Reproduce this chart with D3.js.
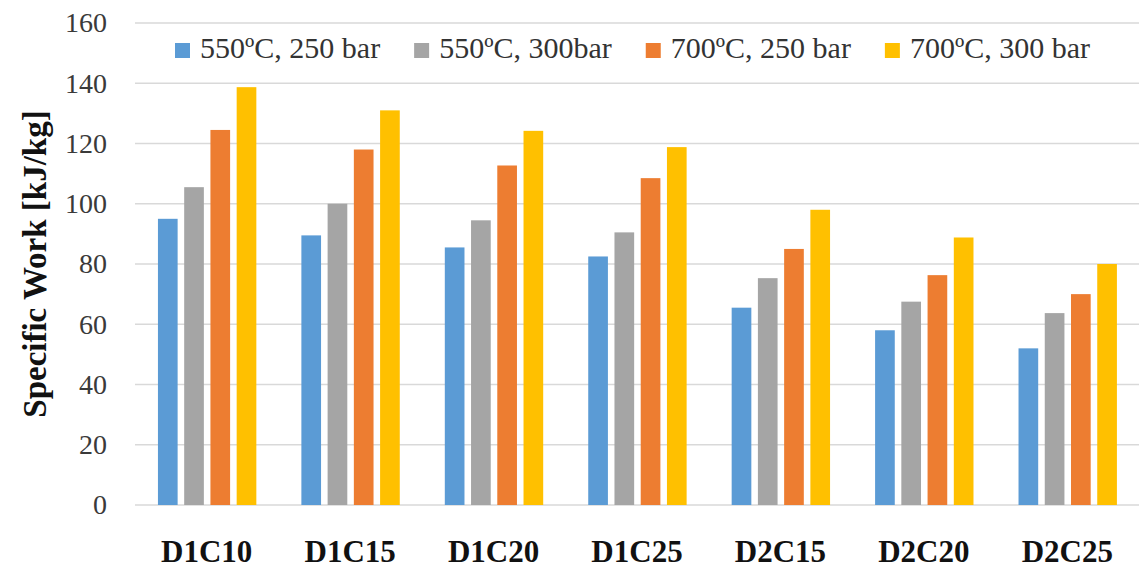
<!DOCTYPE html>
<html lang="en">
<head>
    <meta charset="UTF-8">
    <title>Specific Work Bar Chart</title>
    <script src="https://d3js.org/d3.v7.min.js"></script>
    <style>
        body {
            margin: 0;
            padding: 0;
            background-color: #fff;
        }
        svg text {
            font-family: "Liberation Serif", "Times New Roman", serif;
        }
        .ytick text {
            font-size: 28px;
            fill: #3a3a3a;
        }
        .xtick text {
            font-size: 31px;
            font-weight: bold;
            fill: #111;
        }
        .grid line {
            stroke: #d9d9d9;
            stroke-width: 1.5;
        }
    </style>
</head>
<body>
<div id="chart"></div>
<script>
    // Data
    const categories = ["D1C10", "D1C15", "D1C20", "D1C25", "D2C15", "D2C20", "D2C25"];
    const seriesNames = ["550ºC, 250 bar", "550ºC, 300bar", "700ºC, 250 bar", "700ºC, 300 bar"];
    const s550_250 = [95, 89.5, 85.5, 82.5, 65.5, 58, 52];
    const s550_300 = [105.5, 100, 94.5, 90.5, 75.3, 67.5, 63.7];
    const s700_250 = [124.5, 118, 112.7, 108.5, 85, 76.3, 70];
    const s700_300 = [138.7, 131, 124.2, 118.8, 98, 88.8, 80];
    const yTicks = [0, 20, 40, 60, 80, 100, 120, 140, 160];
    const colors = ["#5b9bd5", "#a5a5a5", "#ed7d31", "#ffc000"];

    const seriesValues = [s550_250, s550_300, s700_250, s700_300];
    const rows = categories.map((c, i) => ({
        cat: c,
        values: seriesNames.map((s, j) => ({series: s, value: seriesValues[j][i]}))
    }));

    const W = 1145, H = 571;
    const margin = {top: 23, right: 6, bottom: 66, left: 135};
    const width = W - margin.left - margin.right;
    const height = H - margin.top - margin.bottom;

    const svg = d3.select("#chart")
        .append("svg")
        .attr("width", W)
        .attr("height", H);

    const g = svg.append("g")
        .attr("transform", `translate(${margin.left},${margin.top})`);

    const x0 = d3.scaleBand()
        .domain(categories)
        .range([0, width])
        .padding(0);

    const bw = x0.bandwidth();
    const x1 = d3.scaleBand()
        .domain(seriesNames)
        .range([bw * 0.16, bw * 0.846])
        .paddingInner(0.25)
        .paddingOuter(0);

    const y = d3.scaleLinear()
        .domain([0, 160])
        .range([height, 0]);

    const color = d3.scaleOrdinal().domain(seriesNames).range(colors);

    // gridlines
    g.append("g")
        .attr("class", "grid")
        .selectAll("line")
        .data(yTicks)
        .enter().append("line")
        .attr("x1", 0)
        .attr("x2", width)
        .attr("y1", d => y(d))
        .attr("y2", d => y(d));

    // y axis labels
    const yAxis = g.append("g")
        .attr("class", "ytick")
        .call(d3.axisLeft(y).tickValues(yTicks).tickSize(0).tickPadding(28));
    yAxis.select(".domain").remove();

    // x axis labels
    const xAxis = g.append("g")
        .attr("class", "xtick")
        .attr("transform", `translate(0,${height})`)
        .call(d3.axisBottom(x0).tickSize(0));
    xAxis.select(".domain").remove();
    xAxis.selectAll("text").attr("dy", null).attr("y", 57);

    // bars
    g.selectAll(".group")
        .data(rows)
        .enter().append("g")
        .attr("class", "group")
        .attr("transform", d => `translate(${x0(d.cat)},0)`)
        .selectAll("rect")
        .data(d => d.values)
        .enter().append("rect")
        .attr("x", d => x1(d.series))
        .attr("y", d => y(d.value))
        .attr("width", x1.bandwidth())
        .attr("height", d => height - y(d.value))
        .attr("fill", d => color(d.series));

    // y title
    svg.append("text")
        .attr("transform", "translate(46,264) rotate(-90)")
        .attr("text-anchor", "middle")
        .style("font-size", "33px")
        .style("font-weight", "bold")
        .style("fill", "#111")
        .text("Specific Work [kJ/kg]");

    // legend
    const legend = svg.append("g").attr("class", "legend");
    let lx = 175;
    seriesNames.forEach((s, i) => {
        legend.append("rect")
            .attr("x", lx)
            .attr("y", 43)
            .attr("width", 15)
            .attr("height", 15)
            .attr("fill", color(s));
        const t = legend.append("text")
            .attr("x", lx + 25)
            .attr("y", 58)
            .style("font-size", "30px")
            .style("fill", "#333")
            .text(s);
        lx += 25 + t.node().getComputedTextLength() + 34;
    });
</script>
</body>
</html>
